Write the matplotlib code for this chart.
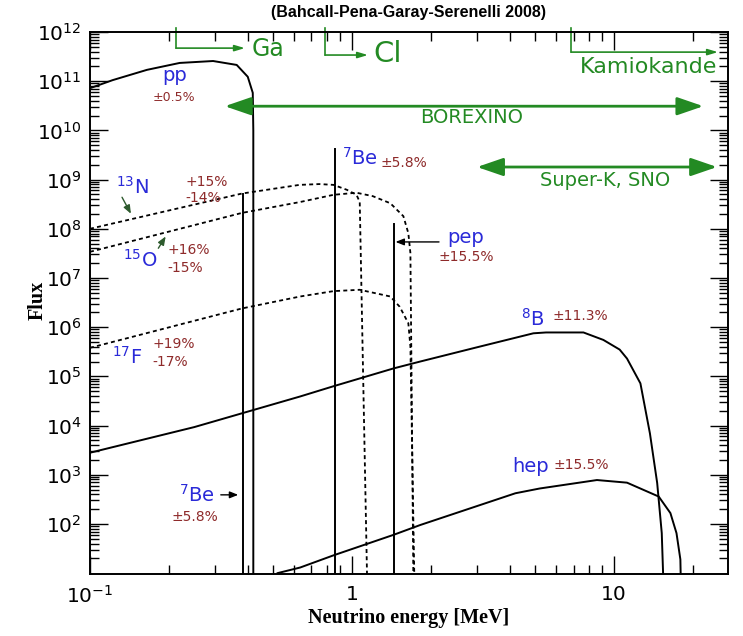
import numpy as np
import matplotlib.pyplot as plt
from matplotlib.ticker import FixedLocator, FixedFormatter, LogLocator, NullFormatter

plt.rcParams['font.family'] = 'DejaVu Sans'

# solar neutrino spectra, energy in MeV, flux
pp_E = [0.1, 0.122, 0.165, 0.22, 0.295, 0.363, 0.40, 0.418, 0.42, 0.42]
pp_F = [7.2e10, 1.05e11, 1.7e11, 2.35e11, 2.57e11, 2.14e11, 1.23e11, 5.8e10, 1e10, 1]

# mono-energetic lines
line_E = [0.384, 0.862, 1.442]
line_F = [5.2e8, 4.1e9, 1.25e8]

n13_E = [0.1, 0.38, 0.63, 0.75, 0.85, 0.955, 1.04, 1.07, 1.15]
n13_F = [1.0e8, 5.2e8, 7.8e8, 8.1e8, 7.8e8, 6.2e8, 4.9e8, 3.5e8, 1]

o15_E = [0.1, 0.38, 0.634, 0.85, 1.04, 1.2, 1.40, 1.57, 1.64, 1.67, 1.72]
o15_F = [3.4e7, 2.1e8, 3.5e8, 4.9e8, 5.4e8, 4.6e8, 3.3e8, 1.8e8, 8.1e7, 3.2e7, 1]

f17_E = [0.1, 0.38, 0.634, 0.85, 1.07, 1.40, 1.52, 1.64, 1.67, 1.74]
f17_F = [3.8e5, 2.4e6, 4.2e6, 5.4e6, 5.75e6, 4.2e6, 2.6e6, 1.2e6, 4e5, 1]

b8_E = [0.1, 0.25, 0.634, 0.85, 1.44, 1.82, 3.0, 4.92, 5.5, 7.64, 9.1, 10.5, 11.2, 12.6, 13.7, 14.6, 15.2, 15.6]
b8_F = [2.8e3, 9.3e3, 3.9e4, 6.3e4, 1.45e5, 2.0e5, 3.9e5, 7.5e5, 7.8e5, 7.8e5, 5.5e5, 3.5e5,
        2.3e5, 7.2e4, 6.9e3, 680, 65, 1]

hep_E = [0.52, 0.634, 0.85, 1.44, 1.82, 4.2, 5.2, 8.6, 11.2, 14.8, 16.4, 17.3, 17.9, 18.1]
hep_F = [10, 13, 23, 60, 95, 420, 525, 780, 690, 360, 166, 65, 19, 1]

blue = '#2a2ad8'
red = '#8e2a2a'
green = '#238a23'

fig = plt.figure(figsize=(7.43, 6.36), dpi=100)
ax = fig.add_axes([0.1211, 0.0975, 0.8587, 0.8522])
ax.set_xscale('log')
ax.set_yscale('log')

lw = 1.4
ax.plot(pp_E, pp_F, color='k', lw=lw)
for e, f in zip(line_E, line_F):
    ax.plot([e, e], [1, f], color='k', lw=lw)
ax.plot(b8_E, b8_F, color='k', lw=lw)
ax.plot(hep_E, hep_F, color='k', lw=lw)
for E, F in [(n13_E, n13_F), (o15_E, o15_F), (f17_E, f17_F)]:
    ax.plot(E, F, color='k', lw=1.3, linestyle=(0, (2.2, 1.8)))

ax.set_xlim(0.1, 27.2)
ax.set_ylim(9.6, 1e12)

ax.xaxis.set_major_locator(FixedLocator([0.1, 1, 10]))
ax.xaxis.set_major_formatter(FixedFormatter([r'$\mathdefault{10^{-1}}$', '1', '10']))
ax.xaxis.set_minor_locator(LogLocator(base=10, subs=np.arange(2, 10)))
ax.xaxis.set_minor_formatter(NullFormatter())
ax.yaxis.set_major_locator(FixedLocator([10.0 ** k for k in range(2, 13)]))
ax.yaxis.set_minor_locator(LogLocator(base=10, subs=np.arange(2, 10), numticks=20))
ax.yaxis.set_minor_formatter(NullFormatter())
ax.tick_params(which='both', direction='in', top=True, right=True, labelsize=14.5,
               width=1.0, color='k')
ax.tick_params(which='major', length=13)
ax.tick_params(which='minor', length=6.5)
ax.tick_params(axis='x', pad=8)
ax.tick_params(axis='y', pad=6)
for s in ax.spines.values():
    s.set_linewidth(1.4)

ax.set_xlabel('Neutrino energy [MeV]', family='Liberation Serif', weight='bold', fontsize=14.5, labelpad=1)
ax.set_ylabel('Flux', family='Liberation Serif', weight='bold', fontsize=14.5)
ax.yaxis.set_label_coords(-0.066, 0.505)
fig.text(0.55, 0.981, '(Bahcall-Pena-Garay-Serenelli 2008)', family='Liberation Sans',
         weight='bold', fontsize=11.5, ha='center', va='center')

# source labels and uncertainties
def lab(x, y, s, c, size, ha='center'):
    ax.text(x, y, s, color=c, fontsize=size, ha=ha, va='center')

lab(0.21, 1.3e11, 'pp', blue, 14)
lab(0.21, 4.6e10, '±0.5%', red, 9)
lab(0.145, 7.1e8, r'$^{13}$N', blue, 14)
lab(0.231, 8.9e8, '+15%', red, 10, 'left')
lab(0.231, 4.2e8, '-14%', red, 10, 'left')
lab(0.155, 2.3e7, r'$^{15}$O', blue, 14)
lab(0.197, 3.7e7, '+16%', red, 10, 'left')
lab(0.197, 1.6e7, '-15%', red, 10, 'left')
lab(0.138, 2.5e5, r'$^{17}$F', blue, 14)
lab(0.173, 4.6e5, '+19%', red, 10, 'left')
lab(0.173, 2.0e5, '-17%', red, 10, 'left')
lab(1.07, 2.75e9, r'$^{7}$Be', blue, 14)
lab(1.28, 2.2e9, '±5.8%', red, 10, 'left')
lab(2.72, 6.8e7, 'pep', blue, 14)
lab(2.72, 2.7e7, '±15.5%', red, 10)
lab(4.87, 1.5e6, r'$^{8}$B', blue, 14)
lab(5.8, 1.7e6, '±11.3%', red, 10, 'left')
lab(4.78, 1.5e3, 'hep', blue, 14)
lab(5.85, 1.55e3, '±15.5%', red, 10, 'left')
lab(0.256, 390, r'$^{7}$Be', blue, 14)
lab(0.252, 139, '±5.8%', red, 10)

small = dict(arrowstyle='-|>,head_length=0.5,head_width=0.2', lw=1)
ax.annotate('', xy=(0.145, 1.8e8), xytext=(0.131, 4.9e8), arrowprops=dict(color='#2d5a2d', **small))
ax.annotate('', xy=(0.197, 7.8e7), xytext=(0.18, 3.6e7), arrowprops=dict(color='#2d5a2d', **small))
ax.annotate('', xy=(1.43, 5.4e7), xytext=(2.2, 5.4e7), arrowprops=dict(color='k', **small))
ax.annotate('', xy=(0.377, 390), xytext=(0.308, 390), arrowprops=dict(color='k', **small))

# detector thresholds
for x0, y0, x1, name, tx, ty, size, ha in [
        (0.213, 4.7e11, 0.39, 'Ga', 0.415, 4.6e11, 17, 'left'),
        (0.79, 3.4e11, 1.15, 'Cl', 1.21, 3.5e11, 21, 'left'),
        (6.86, 3.9e11, 24.9, 'Kamiokande', 13.5, 1.94e11, 16, 'center')]:
    ax.plot([x0, x0], [1.2e12, y0], color=green, lw=1.2, clip_on=False)
    ax.annotate('', xy=(x1, y0), xytext=(x0, y0),
                arrowprops=dict(arrowstyle='-|>,head_length=0.6,head_width=0.18', color=green, lw=1.2,
                                shrinkA=0, shrinkB=0))
    ax.text(tx, ty, name, color=green, fontsize=size, ha=ha, va='center')

big = dict(arrowstyle='<|-|>,head_length=1.6,head_width=0.55', color=green, lw=2,
           shrinkA=0, shrinkB=0)
ax.annotate('', xy=(21.9, 3.1e10), xytext=(0.327, 3.1e10), arrowprops=big)
ax.text(2.85, 1.8e10, 'BOREXINO', color=green, fontsize=14, ha='center', va='center')
ax.annotate('', xy=(24.7, 1.8e9), xytext=(3.0, 1.8e9), arrowprops=big)
ax.text(9.25, 9.8e8, 'Super-K, SNO', color=green, fontsize=14, ha='center', va='center')

fig.savefig('out.png', dpi=100)
